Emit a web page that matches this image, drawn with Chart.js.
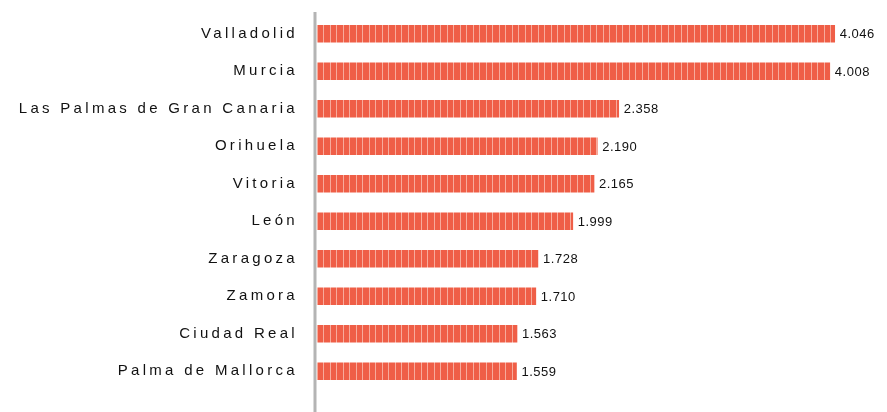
<!DOCTYPE html>
<html>
<head>
<meta charset="utf-8">
<script src="https://cdn.jsdelivr.net/npm/chart.js@4.4.1/dist/chart.umd.min.js"></script>
<style>
  html, body { margin: 0; padding: 0; background: #fff; }
  #wrap { width: 887px; height: 412px; }
</style>
</head>
<body>
<div id="wrap"><canvas id="cityChart"></canvas></div>
<script>
// Data
const cities = ['Valladolid', 'Murcia', 'Las Palmas de Gran Canaria', 'Orihuela', 'Vitoria',
                'León', 'Zaragoza', 'Zamora', 'Ciudad Real', 'Palma de Mallorca'];
const values = [4046, 4008, 2358, 2190, 2165, 1999, 1728, 1710, 1563, 1559];

// striped fill like the original
function stripePattern() {
    const c = document.createElement('canvas');
    c.width = 13; c.height = 4;
    const g = c.getContext('2d');
    g.fillStyle = '#ef5e47';
    g.fillRect(0, 0, 13, 4);
    g.fillStyle = '#f7ab9c';
    g.fillRect(5, 0, 1, 4);
    g.fillRect(11, 0, 1, 4);
    return g.createPattern(c, 'repeat');
}

const fmt = v => v.toLocaleString('de-DE');

// spaced out label text + long grey axis line + value labels
const extras = {
    id: 'extras',
    beforeDraw(chart) {
        chart.ctx.letterSpacing = '3.3px';
    },
    afterDatasetsDraw(chart) {
        const ctx = chart.ctx;
        const area = chart.chartArea;
        ctx.save();
        ctx.letterSpacing = '0px';
        ctx.strokeStyle = '#b4b4b4';
        ctx.lineWidth = 3;
        ctx.beginPath();
        ctx.moveTo(area.left - 2, 12);
        ctx.lineTo(area.left - 2, chart.height);
        ctx.stroke();

        ctx.letterSpacing = '0.5px';
        ctx.font = '13px "Liberation Sans", Arial, sans-serif';
        ctx.fillStyle = '#111';
        ctx.textBaseline = 'middle';
        const meta = chart.getDatasetMeta(0);
        meta.data.forEach((bar, i) => {
            ctx.fillText(fmt(values[i]), bar.x + 5, bar.y + 1);
        });
        ctx.restore();
    }
};

const cityChart = new Chart(document.getElementById('cityChart'), {
    type: 'bar',
    data: {
        labels: cities,
        datasets: [{
            data: values,
            backgroundColor: stripePattern(),
            barThickness: 17
        }]
    },
    options: {
        indexAxis: 'y',
        responsive: true,
        maintainAspectRatio: false,
        animation: false,
        layout: { padding: { top: 15, bottom: 22, right: 7, left: 0 } },
        plugins: {
            legend: { display: false },
            tooltip: { enabled: false }
        },
        scales: {
            x: {
                display: false,
                min: 0,
                max: 4400
            },
            y: {
                grid: { display: false },
                border: { display: false },
                ticks: {
                    color: '#111',
                    padding: 11,
                    font: { family: '"Liberation Sans", Arial, sans-serif', size: 15 }
                },
                afterFit(scale) {
                    scale.width = 317;
                    scale.paddingTop = 0;
                    scale.paddingBottom = 0;
                }
            }
        }
    },
    plugins: [extras]
});
</script>
</body>
</html>
